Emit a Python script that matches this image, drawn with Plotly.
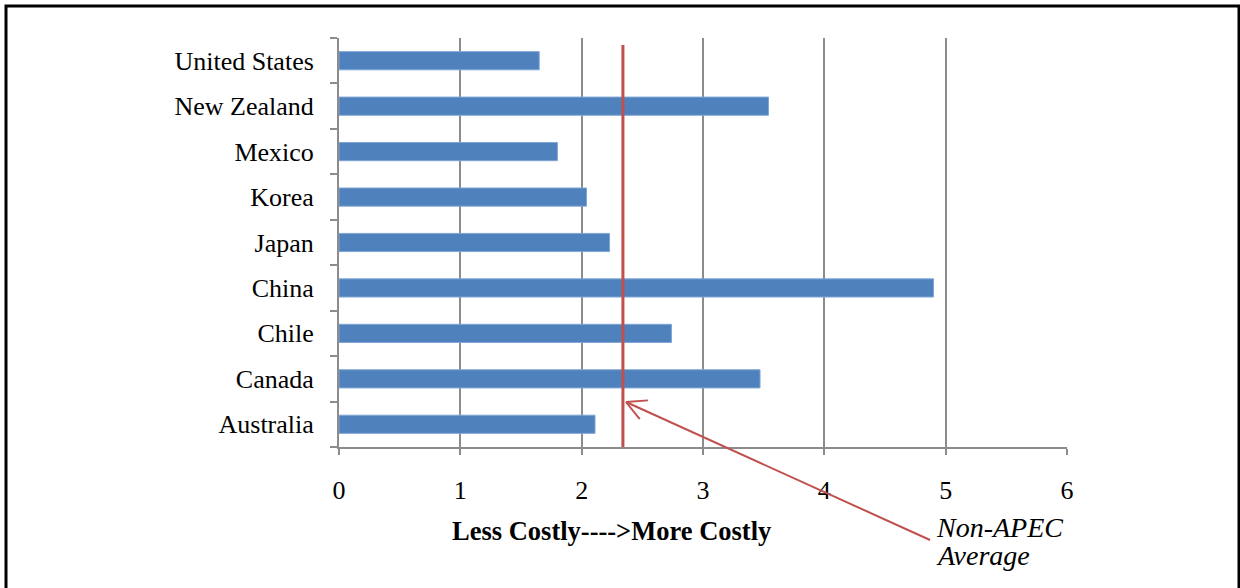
import math
import plotly.graph_objects as go

countries = ["Australia", "Canada", "Chile", "China", "Japan", "Korea",
             "Mexico", "New Zealand", "United States"]
values = [2.11, 3.47, 2.74, 4.90, 2.23, 2.04, 1.80, 3.54, 1.65]
non_apec_average = 2.34
x_ticks = [0, 1, 2, 3, 4, 5, 6]
x_title = "Less Costly---->More Costly"
note_lines = ["Non-APEC", "Average"]

W, H = 1240, 588
L, R, T, B = 339, 173, 38, 141
PW, PH = W - L - R, H - T - B

def px2paper(px, py):
    return (px - L) / PW, (H - B - py) / PH

FONT = "Liberation Serif, Times New Roman, serif"
GRID = "#8C8C8C"
RED = "#C0504D"

fig = go.Figure()
fig.add_trace(go.Bar(
    x=values, y=countries, orientation="h",
    marker=dict(color="#4F81BD", line=dict(color="#7FA6D6", width=1)),
    width=0.4, showlegend=False,
))

shapes = []
# average line
_, ytop = px2paper(0, 45)
shapes.append(dict(type="line", xref="x", yref="paper",
                   x0=non_apec_average, x1=non_apec_average, y0=0, y1=ytop,
                   line=dict(color=RED, width=3)))

# arrow (open head)
tip = (626, 402)
tail = (930, 540)
ang = math.atan2(tail[1] - tip[1], tail[0] - tip[0])
hl = 22
for d in (-0.5, 0.47):
    a = ang + d
    wx, wy = tip[0] + hl * math.cos(a), tip[1] + hl * math.sin(a)
    x0, y0 = px2paper(*tip)
    x1, y1 = px2paper(wx, wy)
    shapes.append(dict(type="line", xref="paper", yref="paper",
                       x0=x0, y0=y0, x1=x1, y1=y1,
                       line=dict(color=RED, width=2)))
x0, y0 = px2paper(*tip)
x1, y1 = px2paper(*tail)
shapes.append(dict(type="line", xref="paper", yref="paper",
                   x0=x0, y0=y0, x1=x1, y1=y1, line=dict(color=RED, width=2)))

# border
bx0, by0 = px2paper(6, 6)
bx1, by1 = px2paper(1239, 640)
shapes.append(dict(type="rect", xref="paper", yref="paper",
                   x0=bx0, y0=by1, x1=bx1, y1=by0,
                   line=dict(color="black", width=3), fillcolor="rgba(0,0,0,0)",
                   layer="below"))

annotations = []
for i, (txt, cy) in enumerate(zip(note_lines, [527, 555])):
    ax, ay = px2paper(934, cy)
    annotations.append(dict(text="<i>" + txt + "</i>", xref="paper", yref="paper",
                            x=ax, y=ay, xanchor="left", yanchor="middle",
                            showarrow=False,
                            font=dict(family=FONT, size=28, color="black")))
tx, ty = px2paper(611, 531)
annotations.append(dict(text="<b>" + x_title + "</b>", xref="paper", yref="paper",
                        x=tx, y=ty, xanchor="center", yanchor="middle",
                        showarrow=False,
                        font=dict(family=FONT, size=26.5, color="black")))

fig.update_layout(
    width=W, height=H,
    margin=dict(l=L, r=R, t=T, b=B, pad=0),
    paper_bgcolor="white", plot_bgcolor="white",
    shapes=shapes, annotations=annotations,
    font=dict(family=FONT, size=26, color="black"),
    xaxis=dict(range=[0, 6], tickvals=x_ticks, showgrid=True, gridcolor=GRID,
               gridwidth=2, showline=True, linecolor=GRID, linewidth=2,
               ticks="outside", ticklen=6, tickcolor=GRID, tickwidth=2,
               zeroline=False, ticklabelstandoff=13,
               tickfont=dict(family=FONT, size=26, color="black")),
    yaxis=dict(type="category", categoryorder="array", categoryarray=countries,
               showgrid=False, showline=True, linecolor=GRID, linewidth=2,
               ticks="outside", ticklen=7, tickcolor=GRID, tickwidth=2,
               tickson="boundaries", ticklabelstandoff=18,
               tickfont=dict(family=FONT, size=26, color="black")),
    bargap=0.6,
)

fig.write_html("out.html", config={"displayModeBar": False},
               post_script="document.body.style.margin='0';document.body.style.padding='0';")
